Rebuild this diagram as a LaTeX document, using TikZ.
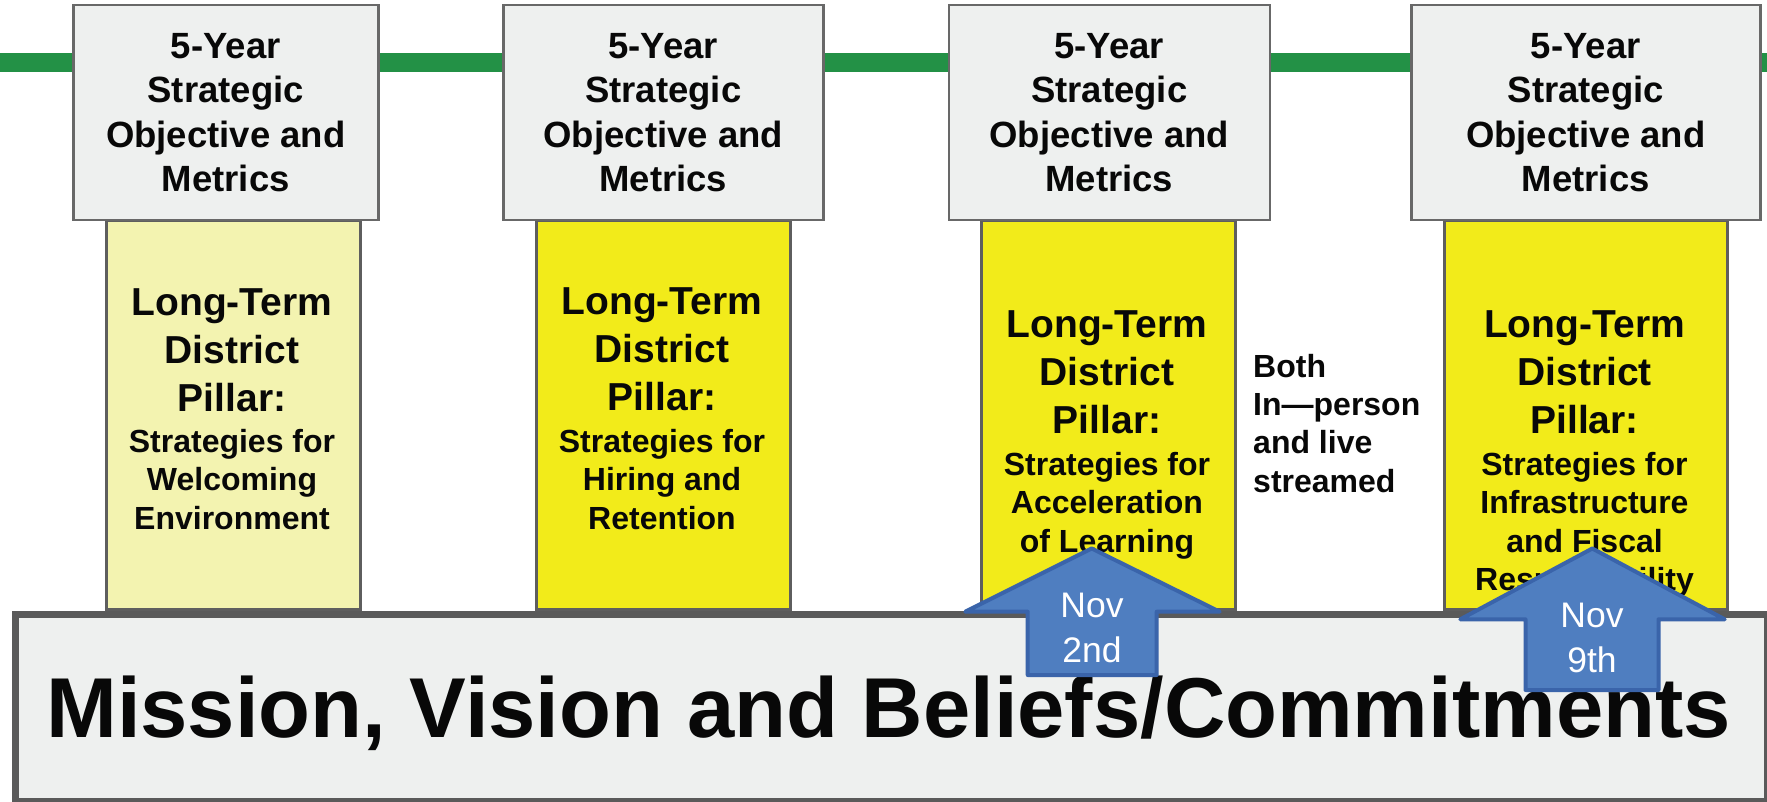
\documentclass[tikz,border=0pt]{standalone}
\usepackage{fontspec}
\setmainfont{Liberation Sans}
\definecolor{inkblack}{RGB}{8,8,8}
\definecolor{boxfill}{RGB}{238,240,239}
\definecolor{boxedge}{RGB}{104,104,104}
\definecolor{pillaredge}{RGB}{94,94,94}
\definecolor{missionedge}{RGB}{90,90,90}
\definecolor{paleyellow}{RGB}{243,243,176}
\definecolor{brightyellow}{RGB}{242,235,26}
\definecolor{linegreen}{RGB}{35,145,70}
\definecolor{arrowfill}{RGB}{79,126,192}
\definecolor{arrowedge}{RGB}{58,100,170}
\begin{document}
\begin{tikzpicture}[x=1pt,y=-1pt,
  greenline/.style={draw=linegreen, line width=19pt},
  topbox/.style={draw=boxedge, fill=boxfill, line width=2.5pt, anchor=north west,
    inner sep=0pt, minimum height=215pt, align=center, text=inkblack,
    font=\bfseries\fontsize{36.5}{44.5}\selectfont},
  pillarbox/.style={draw=pillaredge, line width=3pt, anchor=north west,
    inner sep=0pt, minimum height=389pt},
  headtext/.style={anchor=north, inner sep=0pt, align=center, text=inkblack,
    font=\bfseries\fontsize{39}{48}\selectfont},
  subtext/.style={anchor=north, inner sep=0pt, align=center, text=inkblack,
    font=\bfseries\fontsize{32}{38.5}\selectfont},
  sidetext/.style={anchor=north west, inner sep=0pt, align=left, text=inkblack,
    font=\bfseries\fontsize{32}{38.3}\selectfont},
  missionbox/.style={draw=missionedge, fill=boxfill, line width=7pt, anchor=north west,
    inner sep=0pt},
  missiontext/.style={anchor=base, inner sep=0pt, text=inkblack,
    font=\bfseries\fontsize{85}{100}\selectfont},
  datearrow/.style={fill=arrowfill, draw=arrowedge, line width=4pt, line join=round},
  datetext/.style={anchor=north, inner sep=0pt, align=center, text=white,
    font=\fontsize{35.5}{45}\selectfont}
]
\useasboundingbox (0,0) rectangle (1767,802);

% timeline
\draw[greenline] (0,63) -- (1767,63);

% pillars
\node[pillarbox, fill=paleyellow,   minimum width=254pt] (p1) at (105,219) {};
\node[pillarbox, fill=brightyellow, minimum width=254pt] (p2) at (535,219) {};
\node[pillarbox, fill=brightyellow, minimum width=254pt] (p3) at (980,219) {};
\node[pillarbox, fill=brightyellow, minimum width=283pt] (p4) at (1443,219) {};

% top boxes
\node[topbox, minimum width=305pt] (t1) at (72,4)     {5-Year\\Strategic\\Objective and\\Metrics};
\node[topbox, minimum width=320pt] (t2) at (502,4)    {5-Year\\Strategic\\Objective and\\Metrics};
\node[topbox, minimum width=321pt] (t3) at (947.5,4)  {5-Year\\Strategic\\Objective and\\Metrics};
\node[topbox, minimum width=349pt] (t4) at (1410,4)   {5-Year\\Strategic\\Objective and\\Metrics};

% mission base
\node[missionbox, minimum width=1752pt, minimum height=187pt] (mb) at (11.5,611) {};
\node[missiontext] (mt) at (888.5,737) {Mission, Vision and Beliefs/Commitments};

% pillar texts
\node[headtext] (h1) at (232,288.8) {Long-Term\\District\\Pillar:};
\node[subtext]  (s1) at (232,428.7) {Strategies for\\Welcoming\\Environment};
\node[headtext] (h2) at (662,287.1) {Long-Term\\District\\Pillar:};
\node[subtext]  (s2) at (662,428.7) {Strategies for\\Hiring and\\Retention};
\node[headtext] (h3) at (1107,310.4) {Long-Term\\District\\Pillar:};
\node[subtext]  (s3) at (1107,452) {Strategies for\\Acceleration\\of Learning};
\node[headtext] (h4) at (1584.5,310.4) {Long-Term\\District\\Pillar:};
\node[subtext]  (s4) at (1584.5,452) {Strategies for\\Infrastructure\\and Fiscal\\Responsibility};

% side note
\node[sidetext] (both) at (1253,353.8) {Both\\In—person\\and live\\streamed};

% date arrows
\draw[datearrow] (1091.7,548.5) -- (1219.7,611.7) -- (1156.7,611.7) -- (1156.7,675)
  -- (1027.7,675) -- (1027.7,611.7) -- (965.3,611.7) -- cycle;
\node[datetext] (d1) at (1092,592.9) {Nov\\2nd};

\draw[datearrow] (1592.3,548.5) -- (1724.7,619.3) -- (1658.5,619.3) -- (1658.5,690)
  -- (1525.5,690) -- (1525.5,619.3) -- (1460.3,619.3) -- cycle;
\node[datetext] (d2) at (1592,602.9) {Nov\\9th};
\end{tikzpicture}
\end{document}
